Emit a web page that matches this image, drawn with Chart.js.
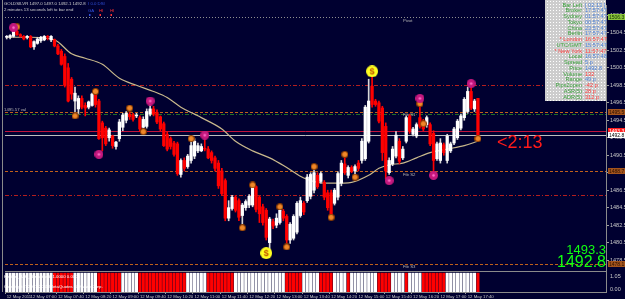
<!DOCTYPE html>
<html>
<head>
<meta charset="utf-8">
<script src="https://cdn.jsdelivr.net/npm/chart.js@4.4.0/dist/chart.umd.min.js"></script>
<style>
html, body { margin: 0; padding: 0; background: #000030; }
canvas { display: block; }
</style>
</head>
<body>
<canvas id="chart" width="625" height="299"></canvas>
<script>
// M5 bars, 12 May 2011, 06:25 .. 17:55
const opens = [1504.0,1504.0,1504.1,1504.7,1504.3,1504.1,1504.0,1504.1,1502.9,1503.3,
	1503.6,1503.7,1504.1,1503.7,1503.7,1503.0,1502.4,1501.8,1500.5,1499.2,
	1496.7,1495.8,1497.0,1496.2,1496.0,1496.2,1497.5,1496.7,1494.2,1493.6,
	1492.5,1492.7,1491.5,1492.4,1493.7,1494.5,1495.2,1495.1,1495.0,1494.8,
	1493.7,1493.8,1495.2,1495.8,1495.4,1494.9,1494.1,1492.9,1492.4,1491.9,
	1491.8,1488.3,1489.9,1489.2,1489.9,1490.4,1491.0,1491.0,1491.3,1491.2,
	1490.8,1490.2,1489.6,1488.7,1487.6,1483.3,1484.4,1485.7,1485.3,1483.6,
	1484.5,1484.8,1484.8,1486.9,1485.7,1484.6,1484.2,1480.5,1482.9,1482.5,
	1482.8,1484.1,1483.5,1480.8,1481.0,1481.7,1483.6,1485.0,1485.3,1485.8,
	1486.5,1488.2,1487.5,1487.4,1486.2,1486.2,1485.0,1485.7,1487.3,1489.5,
	1488.2,1489.1,1488.7,1489.6,1489.9,1490.1,1492.1,1498.4,1496.7,1496.5,
	1495.9,1493.8,1488.5,1489.5,1490.4,1492.1,1490.2,1492.1,1495.0,1492.9,
	1492.7,1494.8,1494.4,1494.0,1494.0,1493.0,1490.1,1489.9,1491.7,1489.9,
	1491.0,1491.9,1492.5,1493.6,1494.8,1495.5,1497.8,1495.8,1497.0];
const highs = [1504.2,1504.3,1505.1,1505.0,1504.4,1504.2,1504.2,1504.2,1503.6,1504.0,
	1504.1,1504.2,1504.2,1504.2,1503.8,1503.2,1502.6,1502.1,1501.0,1499.4,
	1498.3,1497.3,1497.3,1496.5,1496.7,1497.6,1497.7,1496.9,1494.4,1493.8,
	1493.6,1492.8,1492.1,1494.6,1495.3,1495.5,1495.9,1495.3,1495.3,1495.0,
	1494.9,1495.8,1496.7,1496.1,1495.7,1495.0,1494.3,1493.2,1492.6,1492.1,
	1492.0,1490.1,1490.2,1490.6,1492.1,1492.4,1491.9,1491.8,1492.6,1491.5,
	1491.0,1490.4,1489.9,1489.0,1487.8,1485.3,1485.9,1485.9,1485.5,1485.0,
	1485.4,1486.0,1487.0,1487.0,1485.8,1484.9,1484.4,1483.4,1483.2,1483.8,
	1484.4,1484.3,1483.7,1482.8,1483.7,1485.2,1485.7,1485.2,1488.3,1488.5,
	1489.0,1488.5,1488.6,1487.6,1486.5,1486.5,1486.7,1488.6,1489.9,1490.4,
	1489.3,1489.3,1489.4,1489.9,1492.4,1496.2,1499.2,1499.9,1496.9,1496.7,
	1496.1,1494.2,1490.2,1491.5,1493.2,1492.4,1491.5,1495.0,1495.2,1493.7,
	1494.2,1496.6,1494.6,1495.0,1494.2,1493.3,1492.0,1492.4,1491.9,1492.9,
	1492.0,1493.7,1494.6,1495.2,1497.1,1498.3,1498.4,1496.9,1497.0];
const lows = [1503.8,1503.8,1504.0,1504.2,1504.0,1503.7,1503.8,1502.8,1502.6,1503.2,
	1503.4,1503.6,1503.7,1503.5,1502.9,1502.0,1500.8,1498.3,1496.6,1496.9,
	1495.3,1495.2,1495.8,1495.0,1495.8,1496.1,1496.0,1492.3,1491.0,1491.6,
	1492.1,1491.3,1491.2,1492.1,1493.3,1494.2,1494.6,1494.4,1494.8,1493.2,
	1493.2,1493.6,1495.0,1495.0,1494.1,1493.3,1491.5,1491.0,1491.2,1490.4,
	1488.2,1488.0,1488.7,1489.0,1489.6,1490.1,1490.8,1490.9,1491.0,1490.1,
	1489.6,1488.7,1486.7,1485.9,1483.0,1483.0,1484.2,1484.0,1483.0,1482.2,
	1484.2,1484.5,1484.6,1484.0,1482.8,1482.5,1480.8,1479.6,1482.1,1482.2,
	1482.6,1483.0,1480.2,1480.4,1480.8,1481.5,1483.4,1483.7,1485.1,1485.5,
	1486.2,1486.7,1487.3,1485.4,1484.2,1483.4,1484.8,1485.4,1487.0,1488.3,
	1487.9,1488.5,1488.3,1488.7,1489.6,1489.9,1491.9,1496.0,1496.1,1494.2,
	1489.9,1487.8,1488.3,1489.3,1490.2,1489.5,1490.0,1491.9,1493.0,1492.7,
	1492.5,1493.6,1493.3,1493.7,1491.6,1488.5,1489.9,1489.6,1490.5,1489.6,
	1490.8,1491.7,1492.3,1493.4,1494.5,1495.3,1495.7,1495.5,1492.1];
const closes = [1504.1,1504.2,1504.9,1504.3,1504.1,1503.8,1504.1,1502.9,1503.5,1503.8,
	1504.0,1504.1,1504.0,1504.1,1503.0,1502.1,1500.9,1498.5,1496.7,1497.5,
	1497.6,1497.0,1496.0,1495.9,1496.6,1497.5,1496.3,1492.4,1492.5,1491.8,
	1493.4,1491.6,1492.0,1494.3,1495.1,1495.3,1494.9,1494.6,1495.1,1493.5,
	1494.6,1495.5,1495.8,1495.2,1494.3,1493.5,1491.6,1491.2,1491.5,1490.6,
	1488.4,1489.9,1489.0,1490.4,1491.6,1492.1,1491.6,1491.5,1491.2,1490.2,
	1489.9,1489.0,1487.0,1486.1,1483.3,1484.5,1485.7,1484.2,1483.4,1484.8,
	1485.2,1485.8,1486.9,1484.3,1483.8,1482.8,1481.1,1483.2,1482.4,1483.3,
	1484.2,1483.3,1480.8,1482.6,1483.5,1485.0,1485.3,1484.0,1488.0,1488.3,
	1488.5,1486.9,1488.4,1485.7,1484.5,1483.7,1486.5,1488.4,1489.6,1488.5,
	1489.1,1488.7,1489.2,1489.0,1492.1,1496.0,1496.7,1496.3,1496.3,1494.4,
	1490.8,1488.7,1489.9,1491.2,1492.8,1489.8,1491.2,1494.8,1493.3,1493.5,
	1494.0,1493.8,1493.5,1494.8,1491.8,1489.9,1491.8,1491.9,1490.8,1492.7,
	1491.8,1493.5,1494.4,1495.0,1496.9,1497.8,1495.9,1496.7,1492.8];

// moving average, read at some bars: [bar, price]
const maPoints = [[0,1504.0],[7,1504.0],[14,1503.7],[19,1502.1],[23,1501.6],[28,1500.9],[33,1499.3],
	[38,1498.5],[43,1497.8],[47,1497.1],[51,1496.0],[55,1495.2],[57,1494.8],[63,1493.5],[67,1492.1],
	[72,1491.0],[77,1490.2],[82,1489.1],[87,1487.9],[91,1487.4],[96,1487.3],[101,1487.4],[106,1488.2],
	[109,1489.0],[112,1489.4],[116,1489.6],[120,1490.2],[124,1490.8],[129,1491.2],[134,1491.6],[138,1492.1]];

// fractal markers [bar, price]
const orangeMarks = [[3,1505.2],[20,1495.0],[26,1497.8],[36,1495.9],[40,1493.2],[54,1492.4],[69,1482.2],
	[72,1487.1],[80,1484.6],[82,1480.0],[90,1489.2],[95,1483.4],[99,1490.6],[102,1488.0],[121,1496.4],
	[122,1494.1],[138,1492.4]];
const magentaMarks = [[2,1505.1],[27,1490.6],[42,1496.7],[58,1492.8],[112,1487.6],[121,1497.0],[125,1488.2],[136,1498.7]];
const dollarMarks = [[107,1500.1],[76,1479.3]];

// lower indicator: runs of [bars, up?]
const histRuns = [[14,1],[6,0],[7,1],[7,0],[5,1],[14,0],[6,1],[8,0],[15,1],[5,0],[5,1],[4,0],
	[4,1],[1,0],[8,1],[4,0],[4,1],[1,0],[4,1],[7,0],[9,1],[1,0]];

// horizontal levels
const levelPrices = [1506.3, 1498.5, 1495.5, 1495.2, 1493.3, 1492.8, 1488.7, 1486.0, 1478.1];
const levelNames = ["Pivot", "", "Fib S1", "", "", "", "Fib S2", "", "Fib S3"];

const yTicks = [1478.5,1480.5,1482.5,1484.5,1486.5,1488.5,1490.5,1492.5,1494.5,1496.5,1498.5,1500.5,1502.5,1504.5,1506.5];
const timeTickBars = [0,7,15,23,31,39,47,55,63,71,79,87,95,103,111,119,127,135];
const timeTickText = ["12 May 2011","12 May 07:00","12 May 07:40","12 May 08:20","12 May 09:00","12 May 09:40",
	"12 May 10:20","12 May 11:00","12 May 11:40","12 May 12:20","12 May 13:00","12 May 13:40","12 May 14:20",
	"12 May 15:00","12 May 15:40","12 May 16:20","12 May 17:00","12 May 17:40"];

const infoRows = [
	["Bar Left", "[ 02:13 ]"], ["Broker", "17:57:47"], ["Sydney", "01:57:47"], ["Tokyo", "00:57:47"],
	["China", "23:57:47"], ["Berlin", "17:57:47"], ["* London", "16:57:47"], ["UTC/GMT", "15:57:47"],
	["* New York", "11:57:47"], ["Local", "16:57:48"], ["Spread", "5 p"], ["Price", "1492.8"],
	["Volume", "132"], ["Range", "49 p"], ["Pips2open", "-42 p"], ["ASR(5)", "28 p"], ["ADR(5)", "312 p"]];
const askPrice = "1493.3";
const bidPrice = "1492.8";
const barLeft = "<2:13";

const totalSlots = 176;
const slotLabels = Array.from({length: totalSlots}, (_, i) => i);

const histUp = [];
histRuns.forEach(([n, up]) => { for (let k = 0; k < n; k++) histUp.push(up); });

const candleColors = opens.map((o, i) => (closes[i] >= o ? "#ffffff" : "#ff0000"));
const wickColors = opens.map((o, i) => (closes[i] >= o ? "#d8d8d8" : "#ff0000"));

const FONT = '"Liberation Sans", Arial, sans-serif';
const SMALL = "4.3px " + FONT;

function icon(size, draw) {
	const c = document.createElement("canvas");
	c.width = size;
	c.height = size;
	draw(c.getContext("2d"), size / 2);
	return c;
}
const orangeIcon = icon(7, (g, r) => {
	g.fillStyle = "#8a3c00";
	g.beginPath(); g.arc(r, r, r, 0, Math.PI * 2); g.fill();
	g.fillStyle = "#f0882a";
	g.beginPath(); g.arc(r, r, r - 1, 0, Math.PI * 2); g.fill();
});
const magentaIcon = icon(9, (g, r) => {
	g.fillStyle = "#c4187e";
	g.beginPath(); g.arc(r, r, r, 0, Math.PI * 2); g.fill();
	g.fillStyle = "#ff70c8";
	g.beginPath(); g.arc(r, r, 1.3, 0, Math.PI * 2); g.fill();
});
const dollarIcon = icon(12, (g, r) => {
	g.fillStyle = "#ffff20";
	g.beginPath(); g.arc(r, r, r, 0, Math.PI * 2); g.fill();
	g.fillStyle = "#c05000";
	g.font = "bold 9px " + FONT;
	g.textAlign = "center";
	g.textBaseline = "middle";
	g.fillText("$", r, r + 0.5);
});

const levelStyles = [
	{ color: "#909090", dash: [1, 2] },
	{ color: "#b41e1e", dash: [4, 2, 1, 2] },
	{ color: "#c0601a", dash: [3, 2] },
	{ color: "#1e6e28", dash: [4, 2, 1, 2] },
	{ color: "#c0143c", dash: [] },
	{ color: "#bebebe", dash: [] },
	{ color: "#c0601a", dash: [3, 2] },
	{ color: "#b41e1e", dash: [4, 2, 1, 2] },
	{ color: "#c0601a", dash: [3, 2] },
];
const boxStyles = {
	0: { bg: "#8cc43c", fg: "#103000" },
	2: { bg: "#a4541c", fg: "#2a1000" },
	4: { bg: "#ff1e1e", fg: "#ffffff" },
	5: { bg: "#ffffff", fg: "#000000" },
	6: { bg: "#a4541c", fg: "#2a1000" },
	8: { bg: "#a4541c", fg: "#2a1000" },
};

const overlay = {
	id: "overlay",
	beforeDraw(chart) {
		const { ctx, width, height } = chart;
		ctx.save();
		ctx.fillStyle = "#000030";
		ctx.fillRect(0, 0, width, height);
		ctx.restore();
	},
	beforeDatasetsDraw(chart) {
		const { ctx, chartArea: a, scales } = chart;
		ctx.save();
		ctx.lineWidth = 1;
		levelPrices.forEach((p, i) => {
			const py = Math.round(scales.y.getPixelForValue(p)) + 0.5;
			ctx.strokeStyle = levelStyles[i].color;
			ctx.setLineDash(levelStyles[i].dash);
			ctx.beginPath();
			ctx.moveTo(a.left, py);
			ctx.lineTo(a.right, py);
			ctx.stroke();
		});
		ctx.setLineDash([]);
		ctx.strokeStyle = "#8a8a8a";
		ctx.beginPath();
		ctx.moveTo(2.5, 0); ctx.lineTo(2.5, a.bottom);
		ctx.moveTo(a.left, 271.5); ctx.lineTo(a.right, 271.5);
		ctx.stroke();
		ctx.restore();
	},
	afterDraw(chart) {
		const { ctx, chartArea: a, scales } = chart;
		const y = scales.y;
		ctx.save();
		ctx.textBaseline = "middle";

		// title
		ctx.fillStyle = "#d0d0d0";
		ctx.font = SMALL;
		ctx.textAlign = "left";
		ctx.fillText("GOLDSILVR 1497.0 1497.0 1492.1 1492.8", 4, 4);
		ctx.fillText("2 minutes 13 seconds left to bar end", 4, 10);

		// small signal labels at the top
		ctx.fillStyle = "#3050e0";
		ctx.fillText("I 0.0 DSI", 88, 4);
		ctx.fillText("GA", 88, 11);
		ctx.fillStyle = "#ff3030";
		ctx.fillText("HI", 99, 11);
		ctx.fillText("HI", 110, 11);
		ctx.fillRect(99.5, 14, 1.5, 2);
		ctx.fillRect(110.5, 14, 1.5, 2);
		ctx.fillStyle = "#3050e0";
		ctx.fillRect(89, 14, 1.5, 2);

		// level names
		ctx.fillStyle = "#b4b4b4";
		levelPrices.forEach((p, i) => {
			if (!levelNames[i]) return;
			ctx.fillText(levelNames[i], 403, y.getPixelForValue(p) + 3.5);
		});
		ctx.fillText("1495.57 val", 4, y.getPixelForValue(levelPrices[2]) - 2);

		// info panel
		const pc = document.createElement("canvas");
		pc.width = 3; pc.height = 3;
		const pg = pc.getContext("2d");
		pg.fillStyle = "#cdcdcd"; pg.fillRect(0, 0, 3, 3);
		pg.fillStyle = "#ffffff"; pg.fillRect(1, 1, 1, 1);
		ctx.fillStyle = ctx.createPattern(pc, "repeat");
		ctx.fillRect(545, 0, a.right - 545, 101);
		ctx.font = "5.6px " + FONT;
		infoRows.forEach(([label, value], i) => {
			const ry = 5 + i * 5.75;
			const redRow = label.startsWith("*");
			const redVal = redRow || ["Volume", "Pips2open", "ASR(5)", "ADR(5)"].includes(label);
			ctx.textAlign = "right";
			ctx.fillStyle = redRow ? "#ff3c3c" : "#3aa03a";
			ctx.fillText(label, 582, ry);
			ctx.textAlign = "left";
			ctx.fillStyle = redVal ? "#ff3c3c" : "#4c80d8";
			ctx.fillText(value, 585, ry);
		});

		// price boxes on the right axis
		ctx.font = "5px " + FONT;
		ctx.textAlign = "left";
		Object.keys(boxStyles).forEach((k) => {
			const st = boxStyles[k];
			const py = Math.round(y.getPixelForValue(levelPrices[k]));
			ctx.fillStyle = st.bg;
			ctx.fillRect(a.right + 2, py - 3, 17, 6);
			ctx.fillStyle = st.fg;
			ctx.fillText(levelPrices[k].toFixed(1), a.right + 3, py + 0.3);
		});

		// bar countdown
		const last = opens.length - 1;
		const lx = scales.x.getPixelForValue(last);
		ctx.fillStyle = "#ff1a1a";
		ctx.font = "18px " + FONT;
		ctx.fillText(barLeft, lx + 19, y.getPixelForValue(closes[last]) + 8);

		// ask / bid big numbers
		ctx.fillStyle = "#10ff10";
		ctx.textAlign = "right";
		ctx.font = "13px " + FONT;
		ctx.fillText(askPrice, a.right, 250);
		ctx.font = "16px " + FONT;
		ctx.fillText(bidPrice, a.right, 263);

		// lower panel
		ctx.textAlign = "left";
		ctx.font = SMALL;
		ctx.fillStyle = "#ffffff";
		ctx.fillText("Heiken_Ashi_Smoothed  1.0000 0.0000", 4, 277);
		ctx.fillText("Copyright \u00a9 2001-2011 MetaQuotes Software Corp.", 4, 287);
		ctx.font = "5.5px " + FONT;
		ctx.fillStyle = "#c8c8c8";
		ctx.fillText("1.05", a.right + 4, 276);
		ctx.fillText("0.00", a.right + 4, 289);
		ctx.restore();
	},
};

new Chart(document.getElementById("chart"), {
	data: {
		labels: slotLabels,
		datasets: [
			{
				type: "line",
				data: maPoints.map(([i, v]) => ({ x: i, y: v })),
				borderColor: "#c8b88c",
				borderWidth: 1.2,
				pointRadius: 0,
				cubicInterpolationMode: "monotone",
				order: 6,
			},
			{
				type: "bar",
				data: lows.map((l, i) => [l, highs[i]]),
				backgroundColor: wickColors,
				barThickness: 1,
				grouped: false,
				order: 5,
			},
			{
				type: "bar",
				data: opens.map((o, i) => [o, closes[i]]),
				backgroundColor: candleColors,
				barThickness: 2.6,
				grouped: false,
				order: 4,
			},
			{
				type: "bar",
				yAxisID: "y2",
				data: histUp.map((v) => (v ? 1 : null)),
				backgroundColor: "#ffffff",
				barThickness: 2.4,
				grouped: false,
				order: 4,
			},
			{
				type: "bar",
				yAxisID: "y2",
				data: histUp.map((v) => (v ? null : 1)),
				backgroundColor: "#ff0000",
				barThickness: 2.4,
				grouped: false,
				order: 4,
			},
			{
				type: "line",
				showLine: false,
				data: orangeMarks.map(([i, v]) => ({ x: i, y: v })),
				pointStyle: orangeIcon,
				order: 2,
			},
			{
				type: "line",
				showLine: false,
				data: magentaMarks.map(([i, v]) => ({ x: i, y: v })),
				pointStyle: magentaIcon,
				order: 1,
			},
			{
				type: "line",
				showLine: false,
				data: dollarMarks.map(([i, v]) => ({ x: i, y: v })),
				pointStyle: dollarIcon,
				order: 1,
			},
		],
	},
	options: {
		responsive: false,
		animation: false,
		events: [],
		layout: { padding: { left: 3, top: 3, right: 0, bottom: 0 } },
		plugins: { legend: { display: false }, tooltip: { enabled: false } },
		scales: {
			x: {
				type: "category",
				offset: true,
				grid: {
					drawOnChartArea: false,
					tickLength: 2,
					color: (c) => (timeTickBars.includes(c.index) ? "#a0a0a0" : "rgba(0,0,0,0)"),
				},
				border: { color: "#8a8a8a" },
				ticks: {
					autoSkip: false,
					maxRotation: 0,
					align: "start",
					padding: 0,
					color: "#c8c8c8",
					font: { family: FONT, size: 4.3 },
					callback: (v, i) => {
						const k = timeTickBars.indexOf(i);
						return k >= 0 ? timeTickText[k] : "";
					},
				},
				afterFit: (s) => { s.height = 7; },
			},
			y: {
				position: "right",
				min: 1474.85,
				max: 1507.69,
				afterBuildTicks: (s) => { s.ticks = yTicks.map((value) => ({ value })); },
				grid: { drawOnChartArea: false, tickLength: 3, color: "#a0a0a0" },
				border: { color: "#8a8a8a" },
				ticks: {
					padding: 1,
					color: "#c8c8c8",
					font: { family: FONT, size: 5.5 },
					callback: (v) => v.toFixed(1),
				},
				afterFit: (s) => { s.width = 19; },
			},
			y2: {
				display: false,
				min: 0,
				max: 15.2,
			},
		},
	},
	plugins: [overlay],
});
</script>
</body>
</html>
